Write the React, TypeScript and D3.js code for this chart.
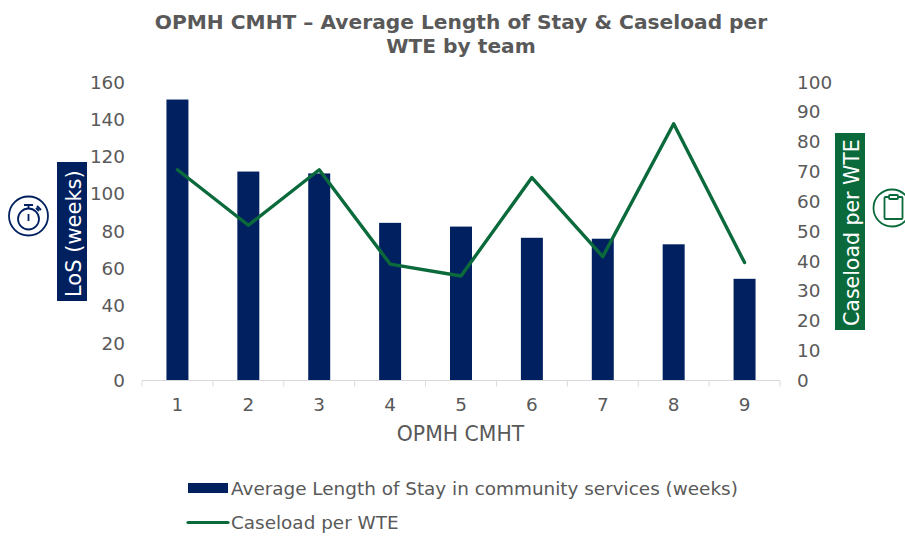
import React from "react";
import * as d3 from "d3";

const categories = ["1", "2", "3", "4", "5", "6", "7", "8", "9"];
const losWeeks = [150.6, 112, 111, 84.5, 82.5, 76.5, 76, 73, 54.5];
const caseload = [70.6, 52, 70.6, 39, 35, 68, 41.5, 86, 39.5];
const leftTicks = [0, 20, 40, 60, 80, 100, 120, 140, 160];
const rightTicks = [0, 10, 20, 30, 40, 50, 60, 70, 80, 90, 100];
const titleLines = ["OPMH CMHT – Average Length of Stay & Caseload per", "WTE by team"];
const xTitle = "OPMH CMHT";
const legendBar = "Average Length of Stay in community services (weeks)";
const legendLine = "Caseload per WTE";

const NAVY = "#002060";
const GREEN = "#0B6A3B";
const GREY = "#595959";
const FONT = "'DejaVu Sans', Verdana, sans-serif";

export default function App() {
  const x = d3.scaleBand().domain(categories).range([142, 780]).paddingInner(0.69).paddingOuter(0.345);
  const yL = d3.scaleLinear().domain([0, 160]).range([380.5, 82]);
  const yR = d3.scaleLinear().domain([0, 100]).range([380.5, 82]);
  const cx = (c: string) => (x(c) as number) + x.bandwidth() / 2;
  const line = d3.line<number>().x((_, i) => cx(categories[i])).y((d) => yR(d));
  const step = x.step();
  return (
    <svg width={905} height={536} style={{ position: "absolute", left: 0, top: 0, background: "#fff" }} fontFamily={FONT}>
      {titleLines.map((t, i) => (
        <text key={t} x={461} y={29 + i * 24} textAnchor="middle" fontSize={20.2} fontWeight="bold" fill={GREY}>{t}</text>
      ))}
      {leftTicks.map((t) => (
        <text key={t} x={125} y={yL(t) + 6.5} textAnchor="end" fontSize={18.4} fill={GREY}>{t}</text>
      ))}
      {rightTicks.map((t) => (
        <text key={t} x={797} y={yR(t) + 6.5} fontSize={18.4} fill={GREY}>{t}</text>
      ))}
      {categories.map((c) => (
        <rect key={c} x={x(c)} y={yL(losWeeks[categories.indexOf(c)])} width={x.bandwidth()} height={yL(0) - yL(losWeeks[categories.indexOf(c)])} fill={NAVY} />
      ))}
      <path d={`M142,380.5H780`} stroke="#D9D9D9" fill="none" />
      {d3.range(categories.length + 1).map((i) => (
        <path key={i} d={`M${142 + i * step},380.5v6`} stroke="#D9D9D9" fill="none" />
      ))}
      {categories.map((c) => (
        <text key={c} x={cx(c)} y={411} textAnchor="middle" fontSize={18.4} fill={GREY}>{c}</text>
      ))}
      <path d={line(caseload) as string} fill="none" stroke={GREEN} strokeWidth={3.4} strokeLinejoin="round" strokeLinecap="round" />
      <text x={460.5} y={441} textAnchor="middle" fontSize={20.4} fill={GREY}>{xTitle}</text>

      <rect x={188} y={483} width={40} height={10} fill={NAVY} />
      <text x={231} y={495} fontSize={18.4} fill={GREY}>{legendBar}</text>
      <path d="M188,522.5H228" stroke={GREEN} strokeWidth={3.2} strokeLinecap="round" />
      <text x={231} y={529} fontSize={18.4} fill={GREY}>{legendLine}</text>

      <rect x={57} y={162} width={30} height={139} fill={NAVY} />
      <text transform="translate(80.5,297) rotate(-90)" fontSize={21} fill="#fff">LoS (weeks)</text>
      <rect x={835} y={133} width={30} height={197} fill={GREEN} />
      <text transform="translate(858.5,326) rotate(-90)" fontSize={20.5} fill="#fff">Caseload per WTE</text>

      <g fill="none" stroke={NAVY} strokeWidth={1.8}>
        <circle cx={28.5} cy={216} r={19.5} />
        <circle cx={28.5} cy={219} r={10.5} />
        <path d="M24,205H33M28.5,205V208.5M36,208L39,211M37,206L41,210M28.5,214V221" />
      </g>
      <g fill="none" stroke={GREEN} strokeWidth={1.8}>
        <circle cx={892} cy={208} r={18.5} />
        <rect x={884.5} y={197} width={18} height={22} rx={1} />
        <rect x={889} y={195} width={9} height={4} rx={1} fill="#fff" />
      </g>
    </svg>
  );
}
